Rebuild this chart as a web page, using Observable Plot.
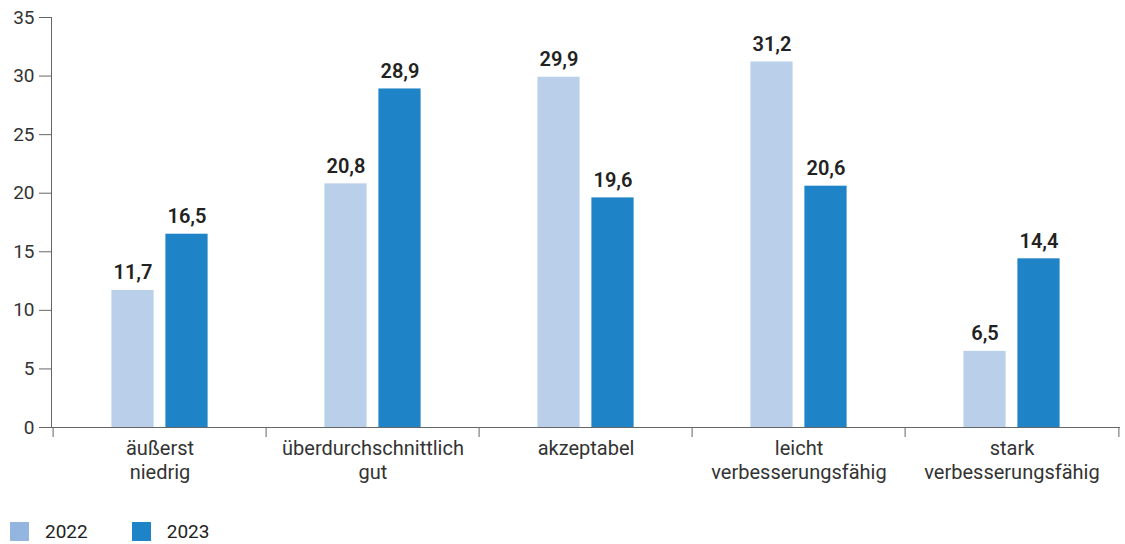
<!DOCTYPE html>
<html>
<head>
<meta charset="utf-8">
<script src="https://cdn.jsdelivr.net/npm/d3@7"></script>
<script src="https://cdn.jsdelivr.net/npm/@observablehq/plot@0.6"></script>
<style>
  body { margin: 0; background: #fff; font-family: Roboto, "Noto Sans", sans-serif; color: #222; }
  #legend { display: flex; align-items: center; padding: 15px 0 0 10px; font-size: 19px; }
  .item { display: flex; align-items: center; margin-right: 44px; }
  .sw { width: 19px; height: 19px; margin-right: 16px; }
</style>
</head>
<body>
<div id="chart"></div>
<div id="legend"></div>
<script>
// Bewertung nach Kategorien, Anteile in Prozent
const categories = [
  "äußerst\nniedrig",
  "überdurchschnittlich\ngut",
  "akzeptabel",
  "leicht\nverbesserungsfähig",
  "stark\nverbesserungsfähig"
];
const years = ["2022", "2023"];
const values2022 = [11.7, 20.8, 29.9, 31.2, 6.5];
const values2023 = [16.5, 28.9, 19.6, 20.6, 14.4];
const yTicks = [0, 5, 10, 15, 20, 25, 30, 35];
const barColors = ["#b9cfea", "#1e84c7"];
const legendColors = ["#93b5e0", "#1e84c7"];

const rows2022 = categories.map((c, i) => ({category: c, year: "2022", value: values2022[i]}));
const rows2023 = categories.map((c, i) => ({category: c, year: "2023", value: values2023[i]}));

const width = 1125, height = 505;
const marginLeft = 51, marginRight = 5;
const band = (width - marginLeft - marginRight) / categories.length;
const barW = 43, gap = 11;
const outer = (band - 2 * barW - gap) / 2;
const fmt = v => v.toFixed(1).replace(".", ",");
const axisColor = "#666";

const chart = Plot.plot({
  width, height,
  marginLeft, marginRight, marginTop: 17, marginBottom: 78,
  style: {fontFamily: "Roboto, 'Noto Sans', sans-serif", fontSize: "19px", color: "#222", background: "#fff"},
  x: {domain: categories, padding: 0, axis: null},
  y: {domain: [0, 35], axis: null},
  marks: [
    Plot.barY(rows2022, {x: "category", y: "value", fill: barColors[0],
      insetLeft: outer, insetRight: band - outer - barW}),
    Plot.barY(rows2023, {x: "category", y: "value", fill: barColors[1],
      insetLeft: outer + barW + gap, insetRight: outer}),
    Plot.text(rows2022, {x: "category", y: "value", text: d => fmt(d.value),
      dx: outer + barW / 2 - band / 2, dy: -11, lineAnchor: "bottom",
      fontWeight: 600, fontSize: 20, fill: "#222"}),
    Plot.text(rows2023, {x: "category", y: "value", text: d => fmt(d.value),
      dx: band / 2 - outer - barW / 2, dy: -11, lineAnchor: "bottom",
      fontWeight: 600, fontSize: 20, fill: "#222"}),
    Plot.axisY({ticks: yTicks, tickSize: 12, tickPadding: 5, label: null, stroke: axisColor, fill: "#333"}),
    Plot.frame({anchor: "left", stroke: axisColor}),
    Plot.ruleY([0], {stroke: axisColor}),
    Plot.axisX({tickSize: 0, tickPadding: 11, lineHeight: 1.17, fontSize: 20, label: null, fill: "#333"}),
    Plot.axisX({tickSize: 10, tickFormat: () => "", dx: -band / 2, label: null, stroke: axisColor}),
    Plot.axisX({ticks: [categories[categories.length - 1]], tickSize: 10, tickFormat: () => "",
      dx: band / 2, label: null, stroke: axisColor})
  ]
});
document.getElementById("chart").append(chart);

const legend = d3.select("#legend");
years.forEach((y, i) => {
  const item = legend.append("div").attr("class", "item");
  item.append("div").attr("class", "sw").style("background", legendColors[i]);
  item.append("span").text(y);
});
</script>
</body>
</html>
